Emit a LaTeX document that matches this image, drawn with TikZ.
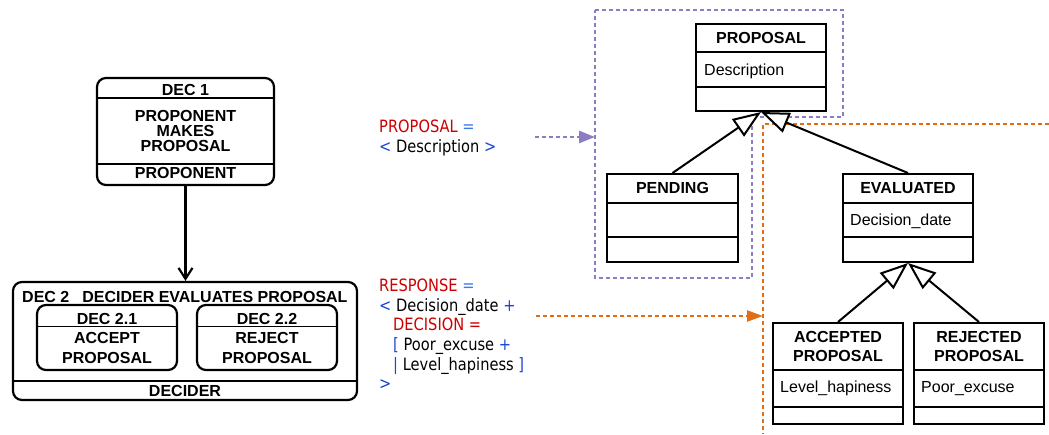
\documentclass[tikz,border=0pt]{standalone}
\usepackage{fontspec}
\setmainfont{Liberation Sans}
\newfontfamily\tah[FakeStretch=0.86]{DejaVu Sans}
\usetikzlibrary{arrows.meta}
\definecolor{redt}{RGB}{204,0,0}
\definecolor{bluet}{RGB}{25,70,215}
\definecolor{bluee}{RGB}{60,120,235}
\definecolor{purp}{RGB}{142,124,195}
\definecolor{oran}{RGB}{225,110,20}
\begin{document}
\begin{tikzpicture}[x=1pt,y=-1pt,
  decbox/.style={draw, line width=2.2pt, rounded corners=9pt, inner sep=0pt},
  cls/.style={draw, line width=2pt, inner sep=0pt},
  sep/.style={line width=1.6pt},
  dtxt/.style={font=\fontsize{16}{15}\selectfont\bfseries, align=center, inner sep=0pt, anchor=base},
  ctxt/.style={font=\fontsize{16}{18.7}\selectfont\bfseries, align=center, inner sep=0pt, anchor=base},
  atxt/.style={font=\fontsize{16}{19}\selectfont, inner sep=0pt, anchor=base west},
  ltxt/.style={font=\tah\fontsize{17}{19.6}\selectfont, align=left, inner sep=0pt, anchor=base west},
  inh/.style={line width=2pt, -{Triangle[length=28pt,width=21pt,fill=white]}},
  purpline/.style={draw=purp, line width=2.6pt, dash pattern=on 4pt off 3pt},
  oranline/.style={draw=oran, line width=2.6pt, dash pattern=on 4pt off 3pt}
]
\useasboundingbox (0,0) rectangle (1049,434);

% dashed regions
\draw[purpline] (595,10) -- (843,10) -- (843,117) -- (752,117) -- (752,278) -- (595,278) -- cycle;
\coordinate (ocorner) at (763,124);
\coordinate (oright) at (1049,124);
\coordinate (obottom) at (763,434);
\draw[oranline] (oright) -- (ocorner) -- (obottom);

% DEC 1
\node[decbox, minimum width=177pt, minimum height=107pt] (dec1) at (185.5,131.5) {};
\draw[sep] (dec1.west |- 0,98) -- (dec1.east |- 0,98);
\draw[sep] (dec1.west |- 0,164) -- (dec1.east |- 0,164);
\node[dtxt] (dec1a) at (185.5,95) {DEC 1};
\node[dtxt] (dec1b) at (185.5,151.7) {PROPONENT\\MAKES\\PROPOSAL};
\node[dtxt] (dec1c) at (185.5,178.7) {PROPONENT};

% DEC 2
\node[decbox, minimum width=344pt, minimum height=118pt] (dec2) at (185,341) {};
\draw[sep] (dec2.west |- 0,381) -- (dec2.east |- 0,381);
\node[dtxt, anchor=base west] (dec2a) at (22,302.3) {DEC 2\hspace{13pt}DECIDER EVALUATES PROPOSAL};
\node[dtxt] (dec2b) at (185,396.7) {DECIDER};

\node[decbox, minimum width=140pt, minimum height=65pt] (dec21) at (107,337.5) {};
\draw[sep] (dec21.west |- 0,326.5) -- (dec21.east |- 0,326.5);
\node[dtxt] (dec21a) at (107,324) {DEC 2.1};
\node[dtxt, font=\fontsize{16}{20}\selectfont\bfseries] (dec21b) at (107,363.3) {ACCEPT\\PROPOSAL};

\node[decbox, minimum width=140pt, minimum height=65pt] (dec22) at (267,337.5) {};
\draw[sep] (dec22.west |- 0,326.5) -- (dec22.east |- 0,326.5);
\node[dtxt] (dec22a) at (267,324) {DEC 2.2};
\node[dtxt, font=\fontsize{16}{20}\selectfont\bfseries] (dec22b) at (267,363.3) {REJECT\\PROPOSAL};

\draw[line width=2.2pt, -{Straight Barb[length=11pt,width=14pt]}] (dec1.south) -- (dec1.south |- dec2.north);

% data dictionary text
\node[ltxt] (ddprop) at (379,152.3) {\textcolor{redt}{PROPOSAL} \textcolor{bluee}{=}\\\textcolor{bluet}{<} Description \textcolor{bluet}{>}};
\node[ltxt] (ddresp) at (379,389.7) {\textcolor{redt}{RESPONSE} \textcolor{bluee}{=}\\
\textcolor{bluet}{<} Decision\_date \textcolor{bluet}{+}\\
\hspace*{14pt}\textcolor{redt}{DECISION =}\\
\hspace*{14pt}\textcolor{bluet}{[} Poor\_excuse \textcolor{bluet}{+}\\
\hspace*{14pt}\textcolor{bluet}{|} Level\_hapiness \textcolor{bluet}{]}\\
\textcolor{bluet}{>}};

\coordinate (parrowS) at (535,137);
\coordinate (parrowE) at (595,137);
\draw[purpline, -{Triangle[length=16pt,width=12pt,fill=purp]}] (parrowS) -- (parrowE);
\coordinate (oarrowS) at (536,316);
\coordinate (oarrowE) at (763,316);
\draw[oranline, -{Triangle[length=16pt,width=11pt,fill=oran]}] (oarrowS) -- (oarrowE);

% class boxes
\node[cls, minimum width=130pt, minimum height=87pt] (proposal) at (761,67.5) {};
\draw[sep] (proposal.west |- 0,52) -- (proposal.east |- 0,52);
\draw[sep] (proposal.west |- 0,87) -- (proposal.east |- 0,87);
\node[ctxt] (proposalT) at (761,43.3) {PROPOSAL};
\node[atxt] (proposalA) at (704,75.5) {Description};

\node[cls, minimum width=131pt, minimum height=88pt] (pending) at (672.5,218) {};
\draw[sep] (pending.west |- 0,203) -- (pending.east |- 0,203);
\draw[sep] (pending.west |- 0,237) -- (pending.east |- 0,237);
\node[ctxt] (pendingT) at (672.5,193.3) {PENDING};

\node[cls, minimum width=130pt, minimum height=88pt] (evaluated) at (908,218) {};
\draw[sep] (evaluated.west |- 0,203) -- (evaluated.east |- 0,203);
\draw[sep] (evaluated.west |- 0,237) -- (evaluated.east |- 0,237);
\node[ctxt] (evaluatedT) at (908,193.3) {EVALUATED};
\node[atxt] (evaluatedA) at (850,225.3) {Decision\_date};

\node[cls, minimum width=130pt, minimum height=101pt] (accepted) at (838,373.5) {};
\draw[sep] (accepted.west |- 0,370) -- (accepted.east |- 0,370);
\draw[sep] (accepted.west |- 0,407) -- (accepted.east |- 0,407);
\node[ctxt] (acceptedT) at (838,361) {ACCEPTED\\PROPOSAL};
\node[atxt] (acceptedA) at (780,392.3) {Level\_hapiness};

\node[cls, minimum width=130pt, minimum height=101pt] (rejected) at (979,373.5) {};
\draw[sep] (rejected.west |- 0,370) -- (rejected.east |- 0,370);
\draw[sep] (rejected.west |- 0,407) -- (rejected.east |- 0,407);
\node[ctxt] (rejectedT) at (979,361) {REJECTED\\PROPOSAL};
\node[atxt] (rejectedA) at (921,392.3) {Poor\_excuse};

% inheritance
\draw[inh] (pending.north) -- (proposal.south);
\draw[inh] (evaluated.north) -- (proposal.south);
\draw[inh] (accepted.north) -- (evaluated.south);
\draw[inh] (rejected.north) -- (evaluated.south);
\end{tikzpicture}
\end{document}
